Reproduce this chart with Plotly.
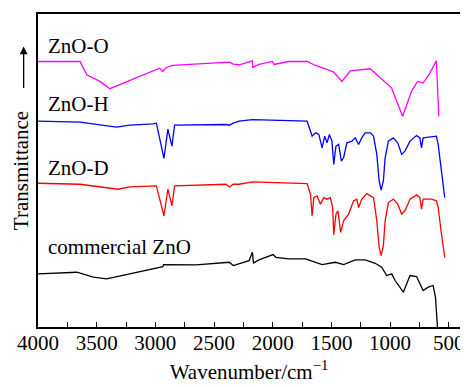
import plotly.graph_objects as go

# Wavenumber (cm^-1) and transmittance (arbitrary, offset)
wn_o = [4000, 3642, 3585, 3472, 3387, 2964, 2938, 2907, 2851, 2653, 2370, 2336, 2286, 2173, 2169,
        2116, 2003, 1989, 1862, 1707, 1635, 1551, 1480, 1410, 1339, 1169, 1099, 986, 944, 893,
        817, 766, 718, 661, 605, 585]
t_o = [267, 267, 253.7, 247, 239.7, 260.3, 257, 261, 263, 264.3, 266.3, 264.3, 263.7, 267.7, 261,
       264, 267, 264, 267, 267, 263, 259.7, 256.3, 247, 257.7, 259.7, 252, 240.3, 227, 212,
       237, 247, 245.3, 255.3, 267.7, 212]

wn_h = [4000, 3642, 3330, 3218, 3020, 2991, 2927, 2893, 2859, 2836, 2398, 2370, 2336, 2286, 2173,
        1707, 1678, 1664, 1635, 1607, 1579, 1557, 1537, 1517, 1495, 1480, 1461, 1438, 1415, 1396,
        1368, 1325, 1296, 1268, 1241, 1212, 1169, 1141, 1113, 1093, 1076, 1057, 1042, 1014, 972,
        935, 901, 873, 830, 774, 746, 732, 718, 661, 605, 590, 562, 534]
t_h = [207, 206, 201, 203, 204.3, 205, 169.7, 199, 182, 203, 203.7, 203, 205, 207, 208.7,
       207, 197, 192, 195.3, 193.7, 180.3, 192, 185.3, 193.7, 187, 163.7, 182, 183.7, 167, 170.3,
       185.3, 187, 190.3, 183.7, 190.3, 195.3, 195.3, 192, 173.7, 147, 137.7, 147, 170.3, 187, 190.3,
       185.3, 173.7, 177, 187, 192.7, 190.3, 180.3, 190.3, 191, 192, 183.7, 157, 130.3]

wn_d = [4000, 3642, 3317, 3218, 2991, 2927, 2893, 2859, 2836, 2398, 2370, 2336, 2286, 2173,
        1707, 1678, 1664, 1650, 1622, 1593, 1565, 1537, 1508, 1489, 1480, 1461, 1444, 1421, 1396,
        1353, 1311, 1283, 1268, 1241, 1198, 1169, 1141, 1113, 1093, 1076, 1057, 1042, 1014, 972,
        935, 901, 873, 830, 774, 746, 732, 718, 647, 605, 590, 562, 534]
t_d = [144.7, 143.7, 138.7, 141, 142, 112, 138.7, 122, 142, 143.7, 141, 143.7, 143.7, 146,
       144.3, 133.7, 112, 130.3, 132, 123.7, 130.3, 128.7, 130.3, 120.3, 93, 113.7, 117, 95.3, 107,
       113.7, 127, 128.7, 120.3, 128.7, 134.3, 132, 130.3, 107, 80.3, 72, 82, 107, 125.3, 128.7,
       123.7, 113.7, 117, 128.7, 133, 130.3, 118.7, 128.7, 128.7, 127, 120.3, 93.7, 70]

wn_c = [4000, 3669, 3529, 3415, 2936, 2930, 2653, 2370, 2336, 2201, 2173, 2164, 2116, 2031, 1997,
        1974, 1862, 1720, 1579, 1466, 1396, 1296, 1212, 1127, 1071, 1029, 986, 957, 887, 830,
        774, 718, 675, 633, 613, 596]
t_c = [53.7, 55.3, 50.3, 48.7, 61, 63, 62.7, 65.3, 62, 67, 75.3, 64.7, 67.7, 72, 73,
       70.3, 68.7, 68.7, 63, 65.3, 63, 67.7, 67.7, 64.3, 60.3, 52, 53.7, 47, 35.3, 52,
       51, 37, 40.3, 42, 30.3, 0.3]

series = [
    ("ZnO-O", wn_o, t_o, "#FF00FF"),
    ("ZnO-H", wn_h, t_h, "#0000FF"),
    ("ZnO-D", wn_d, t_d, "#FF0000"),
    ("commercial ZnO", wn_c, t_c, "#000000"),
]
label_y = [282.3, 224, 160, 81]
label_x = 3932

x_ticks = [4000, 3500, 3000, 2500, 2000, 1500, 1000, 500]

FONT = "Liberation Serif"

fig = go.Figure()
for (name, x, y, c) in series:
    fig.add_trace(go.Scatter(x=x, y=y, mode="lines", name=name,
                             line=dict(color=c, width=1.3), showlegend=False))

for (name, _, _, _), ly in zip(series, label_y):
    fig.add_annotation(x=label_x, y=ly, text=name, showarrow=False,
                       xanchor="left", yanchor="middle",
                       font=dict(family=FONT, size=21, color="black"))

# upward arrow beside the y-axis title
fig.add_annotation(xref="paper", yref="paper", x=-0.034, y=0.896,
                   ax=0, ay=43, axref="pixel", ayref="pixel",
                   showarrow=True, arrowhead=2, arrowsize=1.2, arrowwidth=1.3,
                   arrowcolor="black", text="")

# page body has an 8px margin, so the figure is 8px smaller on each side
fig.update_layout(
    width=460, height=379, autosize=False,
    margin=dict(l=30, r=6, t=4, b=60),
    paper_bgcolor="white", plot_bgcolor="white",
    font=dict(family=FONT, size=21, color="black"),
    xaxis=dict(range=[4000, 404], tickvals=x_ticks, ticktext=[str(v) for v in x_ticks],
               ticks="inside", ticklen=5, tickwidth=1.2, tickcolor="black",
               ticklabelstandoff=-4,
               minor=dict(dtick=250, tick0=0, ticks="inside", ticklen=5, tickwidth=1.2, tickcolor="black"),
               showline=True, linecolor="black", linewidth=1.5, mirror=True,
               showgrid=False, zeroline=False,
               tickfont=dict(family=FONT, size=21),
               title=dict(text="Wavenumber/cm<sup>−1</sup>", font=dict(family=FONT, size=21), standoff=10)),
    yaxis=dict(range=[0.3, 314.7], showticklabels=False, ticks="",
               showline=True, linecolor="black", linewidth=1.5, mirror=True,
               showgrid=False, zeroline=False,
               title=dict(text="Transmittance", font=dict(family=FONT, size=21), standoff=2)),
)

fig.write_html("out.html")
